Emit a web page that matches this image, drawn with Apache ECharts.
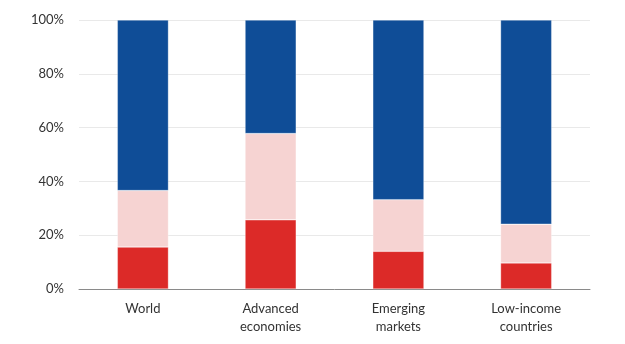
<!DOCTYPE html>
<html><head><meta charset="utf-8">
<script src="https://cdn.jsdelivr.net/npm/echarts@6/dist/echarts.min.js"></script>
<style>html,body{margin:0;padding:0;background:#fff}#c{width:625px;height:344px}</style>
</head><body><div id="c"></div>
<script>
var categories = ['World', 'Advanced\neconomies', 'Emerging\nmarkets', 'Low-income\ncountries'];
var redValues = [15.6, 25.7, 14.0, 9.7];
var pinkValues = [21.0, 32.1, 19.2, 14.4];
var blueValues = [63.4, 42.2, 66.8, 75.9];
var yTicks = [0, 20, 40, 60, 80, 100];

var chart = echarts.init(document.getElementById('c'), null, {renderer: 'canvas'});
var font = 'Lato, "Noto Sans", sans-serif';
function s(name, data, color) {
  return {name: name, type: 'bar', stack: 'total', data: data, barWidth: '40%',
    itemStyle: {color: color, borderColor: 'rgba(255,255,255,0.6)', borderWidth: 0.5}, silent: true};
}
chart.setOption({
  animation: false,
  grid: {left: 79, right: 35, top: 20, bottom: 55},
  xAxis: {type: 'category', data: categories,
    axisLine: {lineStyle: {color: '#8a8a8a', width: 1}}, axisTick: {show: false},
    axisLabel: {color: '#333', fontSize: 13, fontFamily: font, margin: 11, lineHeight: 18}},
  yAxis: {type: 'value', min: 0, max: 100, interval: 20,
    axisLine: {show: false}, axisTick: {show: false},
    splitLine: {lineStyle: {color: '#e9e9e9', width: 1}},
    axisLabel: {color: '#333', fontSize: 13, fontFamily: font, margin: 15,
      formatter: function (v) { return yTicks.indexOf(v) >= 0 ? v + '%' : ''; }}},
  series: [s('Red', redValues, '#dc2a28'), s('Pink', pinkValues, '#f6d3d2'), s('Blue', blueValues, '#0f4d97')]
});
</script></body></html>
